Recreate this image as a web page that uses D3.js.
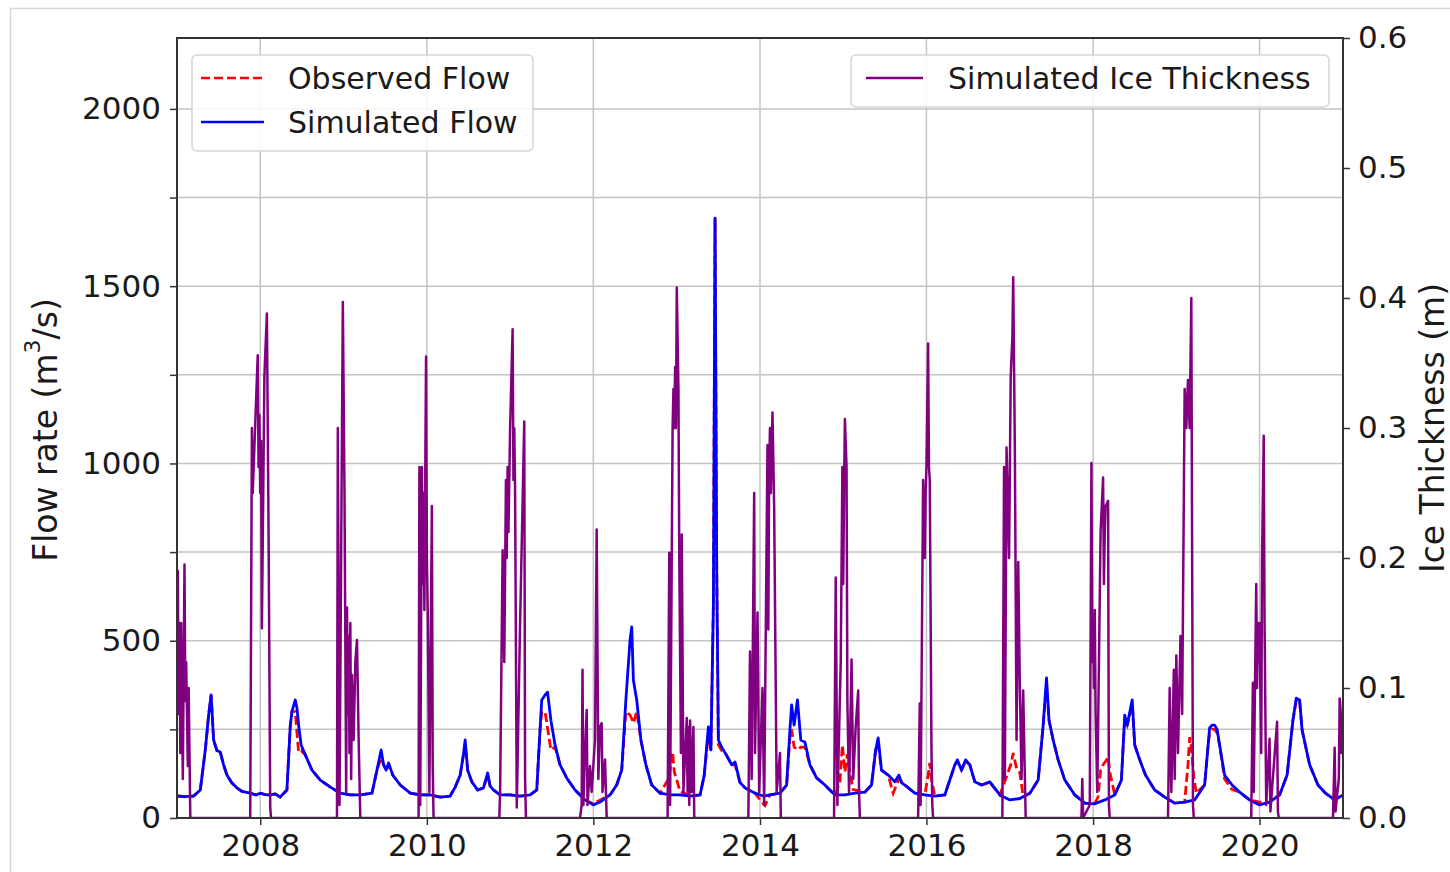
<!DOCTYPE html>
<html>
<head>
<meta charset="utf-8">
<script src="https://cdn.jsdelivr.net/npm/d3@7"></script>
<style>
  body { margin: 0; background: #fff; }
  text { font-family: "DejaVu Sans", sans-serif; fill: #1a1a1a; }
</style>
</head>
<body>
<script>
// values, [decimal year, value]
const simulatedFlow = [
  [2007.00,62],[2007.10,60],[2007.20,62],[2007.28,79],[2007.34,192],[2007.38,290],[2007.41,347],[2007.44,220],[2007.48,190],[2007.52,186],[2007.56,150],[2007.60,121],[2007.66,99],[2007.72,85],[2007.78,75],[2007.88,70],[2007.95,65],
  [2008.00,70],[2008.06,66],[2008.12,65],[2008.18,68],[2008.24,59],[2008.32,79],[2008.36,260],[2008.38,300],[2008.42,333],[2008.44,310],[2008.46,262],[2008.49,206],[2008.54,178],[2008.62,135],[2008.72,107],[2008.84,87],[2008.96,70],
  [2009.08,65],[2009.20,65],[2009.34,70],[2009.40,135],[2009.45,192],[2009.48,150],[2009.51,135],[2009.54,155],[2009.59,121],[2009.68,93],[2009.80,70],[2009.92,65],
  [2010.04,65],[2010.16,59],[2010.28,62],[2010.34,87],[2010.40,121],[2010.44,180],[2010.46,220],[2010.49,135],[2010.54,102],[2010.61,79],[2010.68,85],[2010.73,127],[2010.76,90],[2010.80,79],[2010.88,65],
  [2011.00,65],[2011.12,62],[2011.24,65],[2011.32,79],[2011.36,250],[2011.38,333],[2011.42,347],[2011.45,355],[2011.49,276],[2011.54,206],[2011.60,150],[2011.68,113],[2011.78,79],[2011.90,51],
  [2012.00,37],[2012.08,45],[2012.20,65],[2012.28,93],[2012.34,135],[2012.39,333],[2012.44,502],[2012.46,539],[2012.48,389],[2012.52,333],[2012.57,220],[2012.63,150],[2012.70,93],[2012.80,70],[2012.92,65],
  [2013.04,65],[2013.16,62],[2013.28,65],[2013.33,121],[2013.38,257],[2013.41,192],[2013.44,600],[2013.46,1692],[2013.48,700],[2013.50,220],[2013.54,200],[2013.59,180],[2013.66,150],[2013.70,158],[2013.76,100],[2013.82,85],[2013.94,70],
  [2014.04,62],[2014.12,65],[2014.24,70],[2014.32,93],[2014.36,250],[2014.38,319],[2014.41,262],[2014.45,333],[2014.49,220],[2014.54,214],[2014.60,150],[2014.68,113],[2014.78,93],[2014.90,65],
  [2015.02,65],[2015.14,70],[2015.26,73],[2015.34,93],[2015.39,192],[2015.42,226],[2015.46,135],[2015.54,121],[2015.62,102],[2015.67,121],[2015.70,100],[2015.74,93],[2015.86,70],[2015.98,65],
  [2016.10,62],[2016.22,65],[2016.28,107],[2016.34,150],[2016.37,164],[2016.42,135],[2016.47,164],[2016.52,150],[2016.58,102],[2016.66,93],[2016.76,102],[2016.88,65],
  [2017.00,51],[2017.12,55],[2017.24,70],[2017.34,107],[2017.40,262],[2017.44,395],[2017.47,276],[2017.52,220],[2017.58,164],[2017.66,107],[2017.78,65],[2017.90,42],
  [2018.02,40],[2018.14,51],[2018.26,65],[2018.34,107],[2018.38,290],[2018.41,262],[2018.45,310],[2018.47,333],[2018.50,206],[2018.56,164],[2018.63,121],[2018.74,79],[2018.86,59],[2018.98,42],
  [2019.10,45],[2019.22,51],[2019.34,93],[2019.38,200],[2019.40,254],[2019.43,262],[2019.46,262],[2019.49,250],[2019.52,206],[2019.58,121],[2019.67,93],[2019.76,73],[2019.88,51],
  [2020.00,37],[2020.12,45],[2020.24,65],[2020.33,121],[2020.40,276],[2020.44,338],[2020.48,333],[2020.51,248],[2020.60,150],[2020.70,93],[2020.79,70],[2020.90,51],[2021.00,65]
]

const observedFlow = [
  [2007.00,62],[2007.10,60],[2007.20,62],[2007.28,79],[2007.34,192],[2007.38,290],[2007.41,347],[2007.44,220],[2007.48,190],[2007.52,186],[2007.56,150],[2007.60,121],[2007.66,99],[2007.72,85],[2007.78,75],[2007.88,70],[2007.95,65],
  [2008.00,70],[2008.06,66],[2008.12,65],[2008.18,68],[2008.24,59],[2008.32,79],[2008.36,260],[2008.38,300],[2008.42,300],[2008.44,240],[2008.46,186],[2008.49,190],[2008.54,178],[2008.62,135],[2008.72,107],[2008.84,87],[2008.96,70],
  [2009.08,65],[2009.20,65],[2009.34,70],[2009.40,135],[2009.45,170],[2009.48,150],[2009.51,135],[2009.54,150],[2009.59,121],[2009.68,93],[2009.80,70],[2009.92,65],
  [2010.04,65],[2010.16,59],[2010.28,62],[2010.34,87],[2010.40,121],[2010.44,180],[2010.46,210],[2010.49,135],[2010.54,102],[2010.61,79],[2010.68,85],[2010.73,120],[2010.76,90],[2010.80,79],[2010.88,65],
  [2011.00,65],[2011.12,62],[2011.24,65],[2011.32,79],[2011.36,250],[2011.38,300],[2011.42,300],[2011.45,254],[2011.49,192],[2011.54,200],[2011.60,150],[2011.68,113],[2011.78,79],[2011.90,51],
  [2012.00,40],[2012.08,50],[2012.20,65],[2012.28,93],[2012.34,135],[2012.39,300],[2012.44,290],[2012.46,280],[2012.48,268],[2012.52,300],[2012.57,220],[2012.63,150],[2012.70,93],[2012.80,70],[2012.90,110],[2012.93,150],[2012.95,186],[2012.97,130],
  [2013.00,107],[2013.04,75],[2013.16,62],[2013.28,65],[2013.33,121],[2013.38,240],[2013.41,192],[2013.44,600],[2013.46,1692],[2013.48,700],[2013.50,206],[2013.54,190],[2013.59,180],[2013.66,150],[2013.70,150],[2013.76,100],[2013.82,85],[2013.94,70],
  [2014.02,45],[2014.06,35],[2014.12,65],[2014.24,70],[2014.32,93],[2014.36,230],[2014.38,250],[2014.41,200],[2014.45,192],[2014.49,200],[2014.54,200],[2014.60,150],[2014.68,113],[2014.78,93],[2014.90,65],
  [2014.96,100],[2014.99,206],[2015.02,130],[2015.05,180],[2015.08,127],[2015.12,80],[2015.26,73],[2015.34,93],[2015.39,192],[2015.42,210],[2015.46,135],[2015.54,121],[2015.60,70],[2015.67,110],[2015.74,93],[2015.86,70],[2015.98,65],
  [2016.02,120],[2016.04,155],[2016.06,110],[2016.10,62],[2016.22,65],[2016.28,107],[2016.34,150],[2016.37,160],[2016.42,135],[2016.47,160],[2016.52,150],[2016.58,102],[2016.66,93],[2016.76,100],[2016.88,65],
  [2017.01,150],[2017.04,183],[2017.08,140],[2017.12,127],[2017.16,60],[2017.24,70],[2017.34,107],[2017.40,262],[2017.44,380],[2017.47,276],[2017.52,220],[2017.58,164],[2017.66,107],[2017.78,65],[2017.90,42],
  [2018.02,40],[2018.06,60],[2018.09,135],[2018.12,150],[2018.15,160],[2018.18,172],[2018.20,130],[2018.26,65],[2018.34,107],[2018.38,280],[2018.41,262],[2018.45,300],[2018.47,320],[2018.50,206],[2018.56,164],[2018.63,121],[2018.74,79],[2018.86,59],[2018.98,42],
  [2019.10,45],[2019.14,150],[2019.16,228],[2019.18,200],[2019.21,116],[2019.24,70],[2019.34,93],[2019.38,200],[2019.40,240],[2019.43,250],[2019.46,250],[2019.49,240],[2019.52,206],[2019.58,110],[2019.67,80],[2019.76,73],[2019.88,51],
  [2020.00,45],[2020.12,45],[2020.24,65],[2020.33,121],[2020.40,276],[2020.44,330],[2020.48,330],[2020.51,248],[2020.60,150],[2020.70,93],[2020.79,70],[2020.90,51],[2021.00,65]
]

const iceThickness = [
  [2007.00,0.18],[2007.01,0.19],[2007.02,0.08],[2007.03,0.15],[2007.04,0.05],[2007.05,0.15],[2007.07,0.03],[2007.09,0.195],[2007.10,0.09],[2007.11,0.12],[2007.13,0.04],[2007.14,0.10],[2007.16,0.0],
  [2007.88,0],[2007.90,0.30],[2007.91,0.25],[2007.93,0.285],[2007.97,0.356],[2007.98,0.27],[2007.99,0.31],[2008.00,0.25],[2008.01,0.29],[2008.02,0.146],[2008.05,0.34],[2008.08,0.388],[2008.10,0.22],[2008.12,0.008],[2008.13,0],
  [2008.92,0],[2008.93,0.30],[2008.95,0.01],[2008.99,0.397],[2009.01,0.25],[2009.03,0.02],[2009.04,0.162],[2009.05,0.08],[2009.06,0.14],[2009.07,0.05],[2009.08,0.15],[2009.09,0.03],[2009.10,0.11],[2009.12,0.06],[2009.14,0.12],[2009.16,0.137],[2009.18,0.06],[2009.20,0],
  [2009.90,0],[2009.91,0.27],[2009.92,0.01],[2009.94,0.27],[2009.95,0.18],[2009.96,0.25],[2009.97,0.16],[2009.98,0.26],[2009.99,0.355],[2010.00,0.2],[2010.01,0.16],[2010.03,0.02],[2010.06,0.24],[2010.07,0.04],[2010.08,0],
  [2010.87,0],[2010.88,0.02],[2010.91,0.206],[2010.93,0.12],[2010.95,0.26],[2010.96,0.2],[2010.97,0.27],[2010.98,0.22],[2011.00,0.30],[2011.03,0.376],[2011.04,0.26],[2011.05,0.30],[2011.06,0.25],[2011.08,0.008],[2011.12,0.15],[2011.17,0.305],[2011.18,0.03],[2011.19,0],
  [2011.84,0],[2011.86,0.01],[2011.87,0.114],[2011.88,0.01],[2011.90,0.05],[2011.92,0.083],[2011.93,0.01],[2011.96,0.04],[2011.98,0.02],[2012.02,0.06],[2012.04,0.222],[2012.06,0.03],[2012.08,0.07],[2012.10,0.073],[2012.11,0.02],[2012.14,0.045],[2012.16,0],
  [2012.89,0],[2012.91,0.204],[2012.92,0.01],[2012.95,0.30],[2012.96,0.33],[2012.97,0.30],[2012.98,0.347],[2012.99,0.30],[2013.00,0.408],[2013.02,0.33],[2013.03,0.20],[2013.05,0.05],[2013.06,0.218],[2013.08,0.02],[2013.12,0.077],[2013.13,0.02],[2013.14,0.07],[2013.15,0.01],[2013.16,0.075],[2013.18,0.02],[2013.20,0.07],[2013.21,0],
  [2013.86,0],[2013.88,0.128],[2013.90,0.03],[2013.93,0.25],[2013.94,0.05],[2013.97,0.158],[2013.99,0.02],[2014.03,0.10],[2014.05,0.01],[2014.09,0.287],[2014.10,0.145],[2014.11,0.27],[2014.12,0.30],[2014.13,0.25],[2014.15,0.312],[2014.17,0.24],[2014.20,0.02],[2014.24,0.05],[2014.25,0],
  [2014.89,0],[2014.91,0.185],[2014.93,0.01],[2014.97,0.12],[2014.99,0.27],[2015.00,0.18],[2015.01,0.25],[2015.02,0.307],[2015.04,0.27],[2015.05,0.09],[2015.07,0.02],[2015.10,0.122],[2015.12,0.03],[2015.15,0.07],[2015.18,0.098],[2015.19,0.02],[2015.20,0],
  [2015.90,0],[2015.92,0.088],[2015.93,0.01],[2015.96,0.26],[2015.98,0.20],[2015.99,0.25],[2016.00,0.27],[2016.02,0.365],[2016.03,0.27],[2016.04,0.26],[2016.06,0.055],[2016.07,0.01],[2016.08,0],
  [2016.91,0],[2016.93,0.27],[2016.94,0.03],[2016.96,0.285],[2016.99,0.2],[2017.01,0.34],[2017.03,0.37],[2017.04,0.416],[2017.06,0.28],[2017.08,0.06],[2017.10,0.197],[2017.12,0.10],[2017.14,0.03],[2017.16,0.098],[2017.18,0.03],[2017.19,0],
  [2017.86,0],[2017.87,0.03],[2017.88,0],[2017.96,0.01],[2017.98,0.273],[2017.99,0.12],[2018.00,0.15],[2018.01,0.10],[2018.02,0.16],[2018.03,0.08],[2018.05,0.02],[2018.09,0.22],[2018.12,0.262],[2018.13,0.18],[2018.14,0.22],[2018.15,0.24],[2018.18,0.244],[2018.19,0.01],[2018.20,0],
  [2018.90,0],[2018.92,0.10],[2018.94,0.02],[2018.97,0.114],[2018.98,0.03],[2019.00,0.125],[2019.02,0.05],[2019.05,0.14],[2019.07,0.08],[2019.10,0.33],[2019.12,0.30],[2019.13,0.32],[2019.14,0.337],[2019.16,0.30],[2019.18,0.40],[2019.19,0.2],[2019.20,0.01],[2019.21,0],
  [2019.90,0],[2019.92,0.104],[2019.93,0.02],[2019.96,0.18],[2019.97,0.10],[2019.98,0.15],[2019.99,0.12],[2020.00,0.15],[2020.02,0.05],[2020.03,0.2],[2020.05,0.294],[2020.06,0.15],[2020.08,0.01],[2020.12,0.061],[2020.13,0.005],[2020.21,0.074],[2020.22,0.005],[2020.23,0],
  [2020.88,0],[2020.90,0.054],[2020.91,0.005],[2020.95,0.03],[2020.96,0.092],[2020.98,0.05],[2021.00,0.09]
]

const yearTicks = [2008, 2010, 2012, 2014, 2016, 2018, 2020]
const flowTicks = [0, 250, 500, 750, 1000, 1250, 1500, 1750, 2000]
const iceTicks = [0, 0.1, 0.2, 0.3, 0.4, 0.5, 0.6]

const width = 1450, height = 872
const margin = {top: 38, right: 107, bottom: 54, left: 177}
const innerW = width - margin.left - margin.right
const innerH = height - margin.top - margin.bottom

const toDate = y => {
  const yr = Math.floor(y)
  const a = new Date(yr, 0, 1), b = new Date(yr + 1, 0, 1)
  return new Date(+a + (y - yr) * (b - a))
}

const svg = d3.select('body').append('svg')
  .attr('width', width)
  .attr('height', height)

svg.append('rect').attr('width', width).attr('height', height).attr('fill', '#fff')
// figure frame
svg.append('rect')
  .attr('x', 10.5).attr('y', 8.5)
  .attr('width', 1500).attr('height', 900)
  .attr('fill', 'none').attr('stroke', '#d8d8d8').attr('stroke-width', 1.5)

const g = svg.append('g').attr('transform', `translate(${margin.left},${margin.top})`)

const x = d3.scaleTime().domain([toDate(2007), toDate(2021)]).range([0, innerW])
const yFlow = d3.scaleLinear().domain([0, 2200]).range([innerH, 0])
const yIce = d3.scaleLinear().domain([0, 0.6]).range([innerH, 0])

// grid
g.append('g')
  .selectAll('line')
  .data(yearTicks)
  .enter().append('line')
    .attr('x1', d => x(toDate(d))).attr('x2', d => x(toDate(d)))
    .attr('y1', 0).attr('y2', innerH)
    .attr('stroke', '#c4c4c4').attr('stroke-width', 1.5)

g.append('g')
  .selectAll('line')
  .data(flowTicks.filter(d => d > 0))
  .enter().append('line')
    .attr('x1', 0).attr('x2', innerW)
    .attr('y1', d => yFlow(d)).attr('y2', d => yFlow(d))
    .attr('stroke', '#c4c4c4').attr('stroke-width', 1.5)

svg.append('defs').append('clipPath').attr('id', 'clip')
  .append('rect').attr('width', innerW).attr('height', innerH)

const plot = g.append('g').attr('clip-path', 'url(#clip)')

const flowLine = d3.line()
  .x(d => x(toDate(d[0])))
  .y(d => yFlow(d[1]))

const iceLine = d3.line()
  .x(d => x(toDate(d[0])))
  .y(d => yIce(d[1]))

plot.append('path')
  .datum(observedFlow)
  .attr('d', flowLine)
  .attr('fill', 'none')
  .attr('stroke', '#ff0000')
  .attr('stroke-width', 2.8)
  .attr('stroke-dasharray', '9,4')

plot.append('path')
  .datum(simulatedFlow)
  .attr('d', flowLine)
  .attr('fill', 'none')
  .attr('stroke', '#0000ff')
  .attr('stroke-width', 2.8)
  .attr('stroke-linejoin', 'round')

plot.append('path')
  .datum(iceThickness)
  .attr('d', iceLine)
  .attr('fill', 'none')
  .attr('stroke', '#800080')
  .attr('stroke-width', 2.5)
  .attr('stroke-linejoin', 'round')

// axes
const fontSize = 31
const styleAxis = sel => {
  sel.select('.domain').remove()
  sel.selectAll('.tick line').attr('stroke', '#333').attr('stroke-width', 1.5)
  sel.selectAll('.tick text')
    .attr('font-size', fontSize)
    .attr('fill', '#1a1a1a')
}

g.append('g')
  .attr('transform', `translate(0,${innerH})`)
  .call(d3.axisBottom(x)
    .tickValues(yearTicks.map(toDate))
    .tickFormat(d3.timeFormat('%Y'))
    .tickSize(7).tickPadding(9))
  .call(styleAxis)

g.append('g')
  .call(d3.axisLeft(yFlow)
    .tickValues(flowTicks)
    .tickFormat(d => d % 500 === 0 ? d : '')
    .tickSize(7).tickPadding(9))
  .call(styleAxis)

g.append('g')
  .attr('transform', `translate(${innerW},0)`)
  .call(d3.axisRight(yIce)
    .tickValues(iceTicks)
    .tickFormat(d3.format('.1f'))
    .tickSize(7).tickPadding(8))
  .call(styleAxis)

// frame
g.append('rect')
  .attr('width', innerW).attr('height', innerH)
  .attr('fill', 'none').attr('stroke', '#333').attr('stroke-width', 2)

// axis titles
const titleSize = 33
const leftTitle = svg.append('text')
  .attr('transform', `translate(45,${margin.top + innerH / 2 + 2}) rotate(-90)`)
  .attr('text-anchor', 'middle')
  .attr('dominant-baseline', 'central')
  .attr('font-size', titleSize)
leftTitle.append('tspan').text('Flow rate (m')
leftTitle.append('tspan').text('3').attr('font-size', 22).attr('dy', -13)
leftTitle.append('tspan').text('/s)').attr('dy', 13)

svg.append('text')
  .attr('transform', `translate(1432,${margin.top + innerH / 2}) rotate(-90)`)
  .attr('text-anchor', 'middle')
  .attr('dominant-baseline', 'central')
  .attr('font-size', titleSize)
  .text('Ice Thickness (m)')

// legends
const legendFont = 30
const flowLegend = g.append('g').attr('transform', 'translate(15,17)')
flowLegend.append('rect')
  .attr('width', 341).attr('height', 96).attr('rx', 5)
  .attr('fill', '#fff').attr('fill-opacity', 0.85)
  .attr('stroke', '#d6d6d6').attr('stroke-width', 1.5)

const flowItems = [
  {label: 'Observed Flow', color: '#ff0000', dash: '9,4'},
  {label: 'Simulated Flow', color: '#0000ff', dash: null}
]
flowItems.forEach((it, i) => {
  const yy = 23 + i * 44
  flowLegend.append('line')
    .attr('x1', 9).attr('x2', 72).attr('y1', yy).attr('y2', yy)
    .attr('stroke', it.color).attr('stroke-width', 2.5)
    .attr('stroke-dasharray', it.dash)
  flowLegend.append('text')
    .attr('x', 96).attr('y', yy)
    .attr('dominant-baseline', 'central')
    .attr('font-size', legendFont)
    .text(it.label)
})

const iceLegend = g.append('g').attr('transform', `translate(${851 - margin.left},17)`)
iceLegend.append('rect')
  .attr('width', 478).attr('height', 52).attr('rx', 5)
  .attr('fill', '#fff').attr('fill-opacity', 0.85)
  .attr('stroke', '#d6d6d6').attr('stroke-width', 1.5)
iceLegend.append('line')
  .attr('x1', 15).attr('x2', 72).attr('y1', 23).attr('y2', 23)
  .attr('stroke', '#800080').attr('stroke-width', 2.5)
iceLegend.append('text')
  .attr('x', 97).attr('y', 23)
  .attr('dominant-baseline', 'central')
  .attr('font-size', legendFont)
  .text('Simulated Ice Thickness')
</script>
</body>
</html>
